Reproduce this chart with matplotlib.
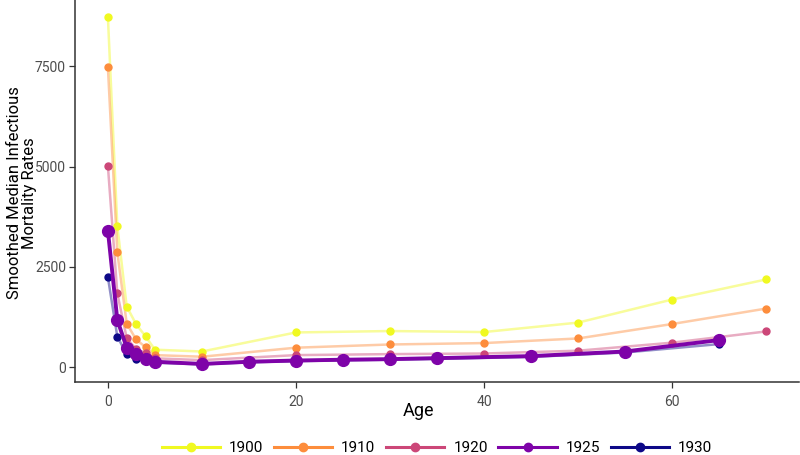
import matplotlib.pyplot as plt
from matplotlib.lines import Line2D

# ---------------------------------------------------------
# data
# ---------------------------------------------------------
ages_early = [0, 1, 2, 3, 4, 5, 10, 20, 30, 40, 50, 60, 70]
rate_1900 = [8725, 3520, 1510, 1070, 770, 435, 390, 865, 900, 875, 1110, 1685, 2185]
rate_1910 = [7475, 2860, 1085, 690, 500, 300, 260, 485, 565, 600, 715, 1075, 1460]
rate_1920 = [5010, 1840, 725, 450, 360, 220, 175, 300, 325, 340, 410, 610, 890]

ages_late = [0, 1, 2, 3, 4, 5, 10, 15, 20, 25, 30, 35, 45, 55, 65]
rate_1925 = [3400, 1175, 485, 325, 215, 135, 80, 135, 165, 185, 200, 225, 275, 390, 675]
rate_1930 = [2240, 760, 325, 200, 180, 110, 70, 120, 150, 170, 185, 205, 255, 365, 575]

years = ['1900', '1910', '1920', '1925', '1930']
colors = {'1900': '#F0F921', '1910': '#FD8D3C', '1920': '#CC4778',
          '1925': '#7E03A8', '1930': '#0D0887'}

plt.rcParams['font.family'] = ['Roboto', 'DejaVu Sans']

fig = plt.figure(figsize=(8, 4.55), dpi=100)
ax = fig.add_axes([75 / 800, 1 - 382 / 455, 724 / 800, 382 / 455])

# background series: faded lines, solid small points
thin = [('1930', ages_late, rate_1930),
        ('1900', ages_early, rate_1900),
        ('1910', ages_early, rate_1910),
        ('1920', ages_early, rate_1920)]
for yr, x, y in thin:
    ax.plot(x, y, color=colors[yr], lw=1.8, alpha=0.45, zorder=2)
for yr, x, y in thin:
    ax.plot(x, y, 'o', color=colors[yr], ms=5, zorder=3, lw=0)

# highlighted 1925
ax.plot(ages_late, rate_1925, color=colors['1925'], lw=2.8, zorder=4)
ax.plot(ages_late, rate_1925, 'o', color=colors['1925'], ms=8.5, zorder=5)

ax.set_xlim(-3.5, 73.5)
ax.set_ylim(-370, 9150)
ax.set_xticks([0, 20, 40, 60])
ax.set_yticks([0, 2500, 5000, 7500])

for s in ['top', 'right']:
    ax.spines[s].set_visible(False)
for s in ['left', 'bottom']:
    ax.spines[s].set_color('#333333')
    ax.spines[s].set_linewidth(1.1)
ax.tick_params(colors='#333333', labelcolor='#4D4D4D', labelsize=10, length=4, width=0.9)
ax.tick_params(axis='x', pad=5)
ax.tick_params(axis='y', pad=2.5)

ax.set_xlabel('Age', fontsize=13)
ax.xaxis.set_label_coords((418 - 75) / 724, -(411 - 382) / 382)
ax.xaxis.label.set_va('center')

fig.text(22 / 800, 1 - 193 / 455, 'Smoothed Median Infectious\nMortality Rates',
         rotation=90, ha='center', va='center', fontsize=12, linespacing=1.0,
         multialignment='center')

handles = [Line2D([0], [0], color=colors[y], lw=2.2, marker='o', ms=6) for y in years]
fig.legend(handles, years, loc='center', bbox_to_anchor=(437 / 800, 1 - 448 / 455),
           ncol=5, frameon=False, fontsize=11, handlelength=3.8, handletextpad=0.6,
           columnspacing=0.7)

fig.savefig('out.png', dpi=100)
